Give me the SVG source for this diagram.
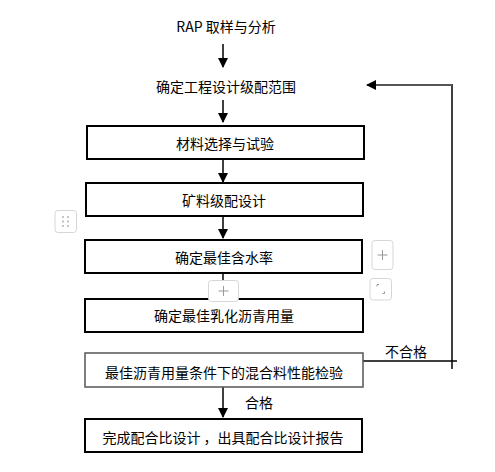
<svg xmlns="http://www.w3.org/2000/svg" width="495" height="472" viewBox="0 0 495 472">
<defs>
<style>
.t{font-family:"Noto Sans CJK SC","Liberation Sans",sans-serif;font-size:14px;fill:#000;text-anchor:middle;dominant-baseline:central}
.b{fill:#fff;stroke:#000;stroke-width:2}
.b2{fill:#fff;stroke:#555;stroke-width:1.5}
.c{stroke:#000;stroke-width:1.5;fill:none}
.ui{fill:#fff;stroke:#d6d6d6;stroke-width:1}
.uig{stroke:#999;stroke-width:1;fill:none}
</style>
<marker id="ah" markerWidth="10" markerHeight="10" refX="9" refY="5" orient="auto" markerUnits="userSpaceOnUse">
<path d="M0,0 L10,5 L0,10 z" fill="#000"/>
</marker>
</defs>
<rect width="495" height="472" fill="#fff"/>
<g id="connectors">
<line class="c" x1="223" y1="44" x2="223" y2="67" marker-end="url(#ah)"/>
<line class="c" x1="223" y1="100" x2="223" y2="122" marker-end="url(#ah)"/>
<line class="c" x1="223" y1="159" x2="223" y2="182" marker-end="url(#ah)"/>
<line class="c" x1="223" y1="216" x2="223" y2="238" marker-end="url(#ah)"/>
<line class="c" x1="223" y1="273" x2="223" y2="299"/>
<line class="c" x1="223" y1="387" x2="223" y2="417" marker-end="url(#ah)"/>
<polyline class="c" points="363,361 457,361"/>
<line class="c" x1="452" y1="369" x2="452" y2="84"/>
<line x1="452" y1="85" x2="367" y2="85" stroke="#555" stroke-width="2" marker-end="url(#ah)"/>
<text class="t" x="406" y="351">不合格</text>
<text class="t" x="259" y="402">合格</text>
</g>
<g id="n0"><text class="t" x="226" y="26">RAP 取样与分析</text></g>
<g id="n1"><text class="t" x="226" y="86">确定工程设计级配范围</text></g>
<g id="n2"><rect class="b" x="87" y="126" width="277" height="33"/><text class="t" x="225" y="143">材料选择与试验</text></g>
<g id="n3"><rect class="b" x="86" y="183" width="277" height="33"/><text class="t" x="224" y="200">矿料级配设计</text></g>
<g id="n4"><rect class="b" x="85" y="240" width="277" height="33"/><text class="t" x="224" y="257">确定最佳含水率</text></g>
<g id="n5"><rect class="b" x="85" y="299" width="278" height="33"/><text class="t" x="224" y="315">确定最佳乳化沥青用量</text></g>
<g id="n6"><rect class="b2" x="85" y="353" width="278" height="34"/><text class="t" x="224" y="372">最佳沥青用量条件下的混合料性能检验</text></g>
<g id="n7"><rect class="b" x="85" y="419" width="277" height="33"/><text class="t" x="223" y="437">完成配合比设计 ，出具配合比设计报告</text></g>
<g id="ui">
<rect class="ui" x="55" y="210.5" width="21.5" height="22" rx="3"/>
<g fill="#aaa"><circle cx="63" cy="217" r="0.9"/><circle cx="68" cy="217" r="0.9"/><circle cx="63" cy="221.5" r="0.9"/><circle cx="68" cy="221.5" r="0.9"/><circle cx="63" cy="226" r="0.9"/><circle cx="68" cy="226" r="0.9"/></g>
<rect class="ui" x="208.5" y="280.5" width="30" height="21" rx="3"/>
<path class="uig" d="M223.5,286 v10 M218.5,291 h10"/>
<rect class="ui" x="372" y="240.5" width="21" height="29" rx="3"/>
<path class="uig" d="M382.5,250 v10 M377.5,255 h10"/>
<rect class="ui" x="370" y="278.5" width="21.5" height="21.5" rx="3"/>
<path class="uig" d="M377,286.5 v-2 h2 M384.5,291.5 v2 h-2"/>
</g>
</svg>
